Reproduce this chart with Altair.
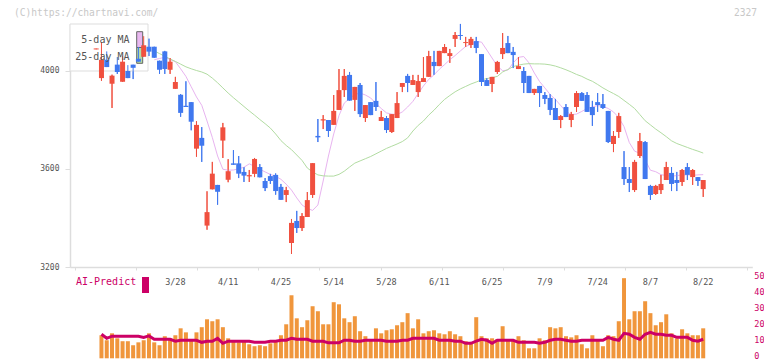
import altair as alt
import pandas as pd

# ---------------- data ----------------
opens = [4088, 3971, 4046, 3948, 4026, 3956, 4000, 4026, 4050, 4058,
         4099, 4099, 4042, 4080, 4005, 3927, 3903, 3858, 3873, 3683,
         3727, 3369, 3517, 3535, 3716, 3556, 3623, 3623, 3588, 3570,
         3580, 3608, 3551, 3571, 3576, 3527, 3494, 3298, 3388, 3359,
         3404, 3494, 3735, 3798, 3800, 3780, 3841, 3922, 3984, 3882,
         3943, 3808, 3873, 3878, 3796, 3808, 3751, 3808, 3935, 3980,
         3943, 3914, 3955, 3976, 4037, 4020, 4073, 4061, 4131, 4147,
         4114, 4106, 4122, 4069, 3963, 3947, 3996, 4069, 4114, 4078,
         4008, 4000, 3980, 3910, 3939, 3902, 3890, 3849, 3800, 3853,
         3800, 3853, 3910, 3902, 3853, 3873, 3865, 3837, 3702, 3751,
         3608, 3559, 3514, 3653, 3710, 3531, 3498, 3514, 3555, 3584,
         3555, 3547, 3608, 3567, 3567, 3518]
highs = [4092, 4118, 4080, 3985, 4057, 4062, 4024, 4026, 4098, 4142,
         4132, 4099, 4042, 4082, 4053, 3976, 3906, 3958, 3873, 3795,
         3771, 3509, 3629, 3535, 3788, 3640, 3677, 3653, 3608, 3596,
         3645, 3620, 3563, 3580, 3582, 3539, 3527, 3396, 3429, 3420,
         3506, 3624, 3804, 3820, 3800, 3902, 4008, 4008, 3996, 3935,
         3951, 3861, 3873, 3955, 3837, 3816, 3824, 3914, 3951, 3988,
         3984, 3984, 4057, 4082, 4082, 4082, 4110, 4090, 4159, 4192,
         4139, 4139, 4139, 4069, 3971, 3976, 4041, 4155, 4143, 4098,
         4057, 4016, 3980, 3927, 3939, 3914, 3906, 3886, 3820, 3865,
         3833, 3918, 3914, 3914, 3878, 3910, 3906, 3837, 3755, 3829,
         3673, 3608, 3637, 3747, 3714, 3535, 3535, 3576, 3629, 3608,
         3588, 3600, 3624, 3600, 3567, 3555]
lows = [4088, 3960, 4016, 3849, 3988, 3956, 3971, 3967, 4038, 4058,
        4061, 4054, 3988, 3988, 3988, 3927, 3813, 3853, 3758, 3650,
        3629, 3352, 3517, 3454, 3645, 3546, 3617, 3563, 3547, 3547,
        3567, 3566, 3510, 3539, 3495, 3474, 3465, 3253, 3339, 3347,
        3404, 3482, 3710, 3763, 3731, 3780, 3841, 3894, 3879, 3837,
        3812, 3792, 3820, 3837, 3796, 3747, 3747, 3808, 3914, 3914,
        3943, 3894, 3955, 3976, 3984, 4020, 4073, 4033, 4098, 4127,
        4098, 4094, 4073, 3939, 3939, 3914, 3988, 4049, 4073, 4012,
        4008, 3910, 3910, 3902, 3853, 3865, 3820, 3800, 3767, 3812,
        3771, 3833, 3878, 3833, 3776, 3833, 3845, 3706, 3669, 3727,
        3535, 3506, 3506, 3645, 3559, 3474, 3494, 3498, 3555, 3510,
        3510, 3531, 3555, 3535, 3531, 3486]
closes = [4092, 4046, 4016, 3981, 3996, 4038, 3971, 4013, 4038, 4105,
          4079, 4054, 4005, 4008, 4038, 3955, 3829, 3853, 3793, 3780,
          3695, 3424, 3581, 3507, 3770, 3591, 3617, 3581, 3573, 3575,
          3641, 3566, 3522, 3551, 3510, 3474, 3514, 3380, 3359, 3408,
          3473, 3624, 3729, 3803, 3755, 3837, 3922, 3980, 3879, 3935,
          3824, 3861, 3820, 3853, 3812, 3759, 3824, 3869, 3951, 3951,
          3963, 3959, 3971, 4061, 4020, 4082, 4098, 4073, 4147, 4143,
          4118, 4131, 4094, 3955, 3939, 3976, 4037, 4094, 4073, 4065,
          4020, 3951, 3910, 3927, 3910, 3886, 3841, 3800, 3816, 3812,
          3824, 3910, 3878, 3833, 3820, 3861, 3849, 3710, 3735, 3816,
          3559, 3543, 3629, 3714, 3559, 3494, 3531, 3539, 3608, 3539,
          3543, 3596, 3576, 3596, 3551, 3555]

ma_first = 11
ma5 = [4046, 4051, 4056, 4047, 4038, 4009, 3978, 3936, 3894, 3860,
       3796, 3729, 3653, 3599, 3595, 3596, 3601, 3607, 3621, 3611,
       3599, 3588, 3578, 3570, 3558, 3538, 3514, 3482, 3453, 3439,
       3431, 3453, 3551, 3653, 3743, 3818, 3869, 3888, 3904, 3910,
       3902, 3890, 3867, 3847, 3829, 3824, 3822, 3833, 3853, 3876,
       3908, 3939, 3966, 3984, 4007, 4026, 4046, 4063, 4082, 4100,
       4109, 4120, 4118, 4086, 4053, 4020, 4001, 4004, 4033, 4056,
       4059, 4033, 3992, 3957, 3931, 3904, 3884, 3859, 3835, 3822,
       3824, 3835, 3847, 3853, 3859, 3855, 3847, 3833, 3810, 3773,
       3708, 3673, 3664, 3637, 3595, 3589, 3577, 3573, 3571, 3573,
       3576, 3576, 3574, 3576, 3577]
ma25 = [4082, 4071, 4060, 4049, 4039, 4028, 4017, 4009, 4002, 3996,
        3987, 3971, 3952, 3931, 3910, 3891, 3873, 3855, 3837, 3820,
        3802, 3785, 3767, 3743, 3716, 3696, 3679, 3657, 3635, 3604,
        3588, 3576, 3572, 3571, 3571, 3578, 3591, 3608, 3624, 3633,
        3642, 3651, 3662, 3673, 3684, 3693, 3702, 3712, 3727, 3755,
        3778, 3796, 3820, 3840, 3863, 3884, 3900, 3915, 3927, 3937,
        3947, 3955, 3964, 3969, 3973, 3978, 3996, 4006, 4018, 4024,
        4028, 4030, 4029, 4029, 4028, 4025, 4020, 4013, 4005, 3996,
        3986, 3978, 3967, 3958, 3945, 3931, 3919, 3908, 3896, 3880,
        3864, 3847, 3822, 3797, 3780, 3763, 3748, 3732, 3715, 3704,
        3696, 3688, 3680, 3673, 3665]

ai_first = 1
ai_bars = [14.3, 11.2, 15.5, 12.4, 10.6, 10.6, 8.1, 9.9, 11.2, 15.5,
           9.9, 8.1, 13.7, 12.4, 14.3, 18.6, 16.1, 11.2, 16.1, 19.3,
           24.2, 23.0, 24.2, 19.3, 12.4, 11.2, 9.9, 11.2, 8.7, 7.5,
           8.1, 7.5, 9.3, 11.2, 14.3, 21.1, 39.1, 24.8, 19.3, 23.6,
           32.3, 29.2, 21.1, 21.1, 34.8, 33.5, 24.8, 22.4, 26.1, 16.8,
           13.7, 11.2, 18.6, 15.5, 17.4, 18.0, 20.5, 22.4, 28.0, 18.6,
           24.2, 15.5, 16.8, 17.4, 15.5, 14.9, 16.8, 14.9, 13.7, 10.6,
           9.9, 25.5, 13.7, 12.4, 12.4, 11.8, 19.9, 11.2, 11.2, 13.7,
           11.2, 6.2, 6.2, 12.4, 11.2, 19.3, 18.6, 19.3, 13.7, 13.0,
           14.3, 8.7, 6.2, 14.3, 11.2, 7.5, 14.3, 13.7, 23.0, 49.7,
           24.2, 29.2, 29.2, 35.4, 28.0, 20.5, 22.4, 27.3, 15.5, 12.4,
           18.0, 15.5, 14.3, 14.3, 18.6]
ai_line = [14.9, 12.4, 13.7, 13.7, 13.7, 13.7, 13.7, 13.7, 13.0, 13.9,
           11.8, 11.8, 11.8, 11.8, 10.6, 11.2, 11.2, 11.2, 11.2, 9.9,
           10.6, 10.6, 12.4, 9.3, 10.6, 10.6, 10.6, 10.6, 10.6, 9.9,
           9.9, 9.9, 10.6, 10.6, 11.2, 11.2, 12.4, 11.8, 11.8, 11.8,
           10.6, 10.6, 10.6, 9.6, 9.6, 9.6, 11.2, 11.2, 10.6, 10.6,
           11.2, 11.2, 11.2, 11.2, 10.6, 10.6, 10.6, 11.2, 11.2, 12.4,
           12.4, 12.4, 12.4, 12.4, 11.2, 11.2, 11.2, 10.6, 10.6, 9.3,
           9.3, 10.6, 11.8, 11.2, 9.3, 11.2, 11.2, 11.2, 11.2, 9.9,
           9.9, 9.9, 9.9, 9.3, 9.9, 11.2, 11.8, 11.8, 11.2, 10.6,
           10.6, 11.2, 11.2, 11.2, 11.2, 11.2, 13.0, 11.8, 11.2, 15.5,
           14.9, 13.0, 11.8, 14.9, 16.1, 14.9, 14.9, 14.3, 14.3, 13.0,
           13.0, 13.0, 11.2, 10.6, 11.8]

date_idx = [15, 25, 35, 45, 55, 65, 75, 85, 95, 105, 115]
date_labels = ["3/28", "4/11", "4/25", "5/14", "5/28", "6/11",
               "6/25", "7/9", "7/24", "8/7", "8/22"]
price_ticks = [3200, 3600, 4000]
ai_ticks = [0, 10, 20, 30, 40, 50]

# ---------------- tables ----------------
n = len(opens)
candles = pd.DataFrame({"i": list(range(n)), "o": opens, "h": highs,
                        "l": lows, "c": closes})
candles["dir"] = ["up" if c >= o else "down" for o, c in zip(opens, closes)]
ma = pd.DataFrame({"i": list(range(ma_first, ma_first + len(ma5))),
                   "ma5": ma5, "ma25": ma25})
ai = pd.DataFrame({"i": list(range(ai_first, ai_first + len(ai_bars))),
                   "bar": ai_bars, "line": ai_line})
dates = pd.DataFrame({"i": date_idx, "d": date_labels})
one = pd.DataFrame({"k": [0]})

RED, BLUE = "#f0503f", "#4078ef"
CRIMSON = "#cc0066"
MONO = "DejaVu Sans Mono"

x0, step = -4.013, 5.357
W, H = 682.3, 243
x_dom = [x0, x0 + W / step]
tick_vals = [x0 + k * (W / 11) / step for k in range(12)]
xs = alt.Scale(domain=x_dom, nice=False, zero=False)
ys = alt.Scale(domain=[3200, 4191.8], nice=False, zero=False)
dir_col = alt.Color("dir:N", scale=alt.Scale(domain=["up", "down"], range=[RED, BLUE]), legend=None)

x_axis = alt.Axis(values=tick_vals, labels=False, tickSize=3, tickColor="#dddddd",
                  domainColor="#dddddd", domainWidth=1.5, grid=False, title=None)
y_axis = alt.Axis(values=price_ticks, format="d", tickSize=5, tickColor="#dddddd",
                  domainColor="#dddddd", domainWidth=1.5, grid=False, labelFont=MONO,
                  labelFontSize=8, labelColor="#555555", labelPadding=6, title=None)


def txt(s, x, y, color, align="left", size=10):
    return alt.Chart(one).mark_text(text=s, font=MONO, fontSize=size, color=color,
                                    align=align, baseline="middle").encode(
        x=alt.value(x), y=alt.value(y))


def box(x1, x2, y1, y2, fill, stroke=None):
    kw = dict(fill=fill)
    if stroke:
        kw.update(stroke=stroke, strokeWidth=1)
    return alt.Chart(one).mark_rect(**kw).encode(
        x=alt.value(x1), x2=alt.value(x2), y=alt.value(y1), y2=alt.value(y2))


# axis carrier (drawn underneath everything)
axis_layer = alt.Chart(candles).mark_rule(strokeWidth=1).encode(
    x=alt.X("i:Q", scale=xs, axis=x_axis),
    y=alt.Y("l:Q", scale=ys, axis=y_axis),
    y2="h:Q", color=dir_col)
wick = alt.Chart(candles).mark_rule(strokeWidth=1).encode(
    x=alt.X("i:Q", scale=xs, title=None), y=alt.Y("l:Q", scale=ys, title=None),
    y2="h:Q", color=dir_col)
body = alt.Chart(candles).mark_bar(size=5).encode(
    x=alt.X("i:Q", scale=xs, title=None), y=alt.Y("o:Q", scale=ys, title=None), y2="c:Q", color=dir_col)
ma5_line = alt.Chart(ma).mark_line(color="#e8b4f0", strokeWidth=1).encode(
    x=alt.X("i:Q", scale=xs, title=None), y=alt.Y("ma5:Q", scale=ys, title=None))
ma25_line = alt.Chart(ma).mark_line(color="#b2dca2", strokeWidth=1).encode(
    x=alt.X("i:Q", scale=xs, title=None), y=alt.Y("ma25:Q", scale=ys, title=None))

date_txt = alt.Chart(dates).mark_text(font=MONO, fontSize=8.5, color="#555555",
                                      baseline="middle", align="center").encode(
    x=alt.X("i:Q", scale=xs, title=None), y=alt.value(258), text="d:N")

price = alt.layer(
    axis_layer,
    box(0, 78, 0, 47, "white", "#dddddd"),
    box(66.7, 72.7, 7.7, 23.5, "#e9b8f0", "#666666"),
    box(66.7, 72.7, 23.5, 39.3, "#b4dca4", "#666666"),
    ma5_line, ma25_line, wick, body,
    txt("5-day MA", 59.5, 16, "#555555", "right"),
    txt("25-day MA", 59.5, 32.7, "#555555", "right"),
    date_txt,
    txt("(C)https://chartnavi.com/", -56, -10.8, "#c8c8c8", size=9.6),
    txt("2327", 687, -10.8, "#c8c8c8", "right", size=9.6),
    txt("AI-Predict", 6, 258, CRIMSON),
    box(72, 79, 253, 269, CRIMSON),
)

vs = alt.Scale(domain=[0, 50], range=[334.3, 253.7], nice=False, zero=True)
bars = alt.Chart(ai).mark_bar(size=4, color="#f0963c").encode(
    x=alt.X("i:Q", scale=xs, title=None),
    y=alt.Y("bar:Q", scale=vs,
            axis=alt.Axis(orient="right", values=ai_ticks, ticks=False, domain=False, grid=False,
                          labelFont=MONO, labelFontSize=8.5, labelColor=CRIMSON, labelPadding=1.5,
                          labelOffset=-2.5, title=None)))
aline = alt.Chart(ai).mark_line(color=CRIMSON, strokeWidth=3).encode(
    x=alt.X("i:Q", scale=xs, title=None), y=alt.Y("line:Q", scale=vs, title=None))
vol = alt.layer(bars, aline)

chart = alt.layer(price, vol).resolve_scale(y="independent").properties(
    width=W, height=H, autosize=alt.AutoSizeParams(type="none"),
    padding={"left": 62, "top": 16, "right": 11.7, "bottom": 94},
    background="white"
).configure_view(stroke=None)

chart.save("out.html", embed_options={"renderer": "svg", "actions": False})
